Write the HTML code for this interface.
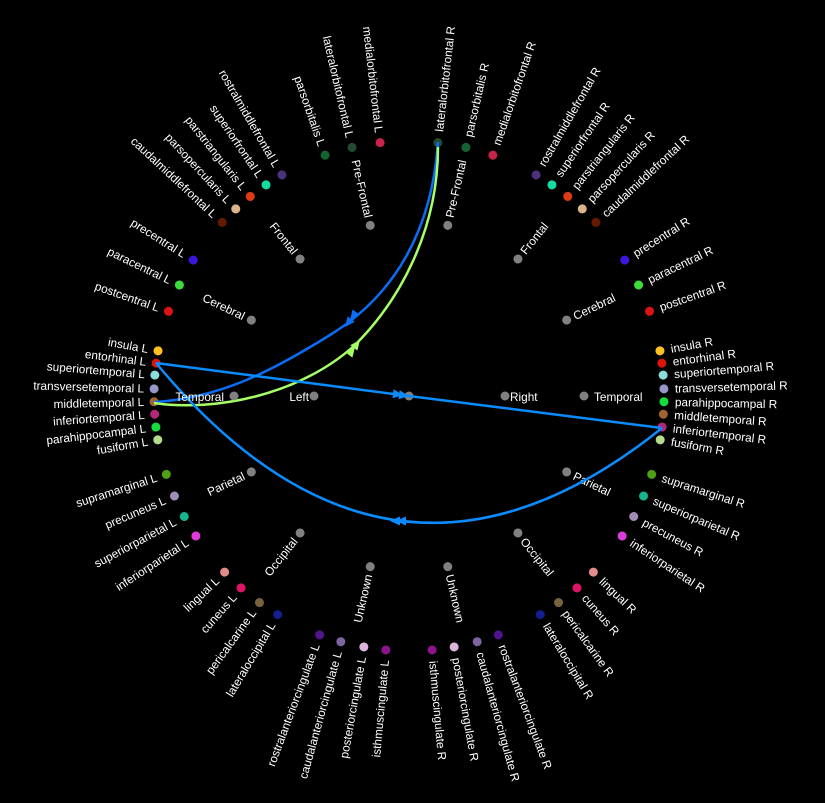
<!DOCTYPE html>
<html><head><meta charset="utf-8"><style>
html,body{margin:0;padding:0;background:#000;}
svg{display:block}
text{font-family:"Liberation Sans",Arial,sans-serif;font-size:11.8px;fill:#fff}
</style></head><body>
<svg width="825" height="803" viewBox="0 0 825 803" xmlns="http://www.w3.org/2000/svg">
<rect width="825" height="803" fill="#000"/>
<!-- Left leaves -->
<g transform="rotate(83.5 409 396)"><circle cx="154" cy="396" r="4.5" fill="rgb(200,35,75)"/><text x="144" y="400" text-anchor="end">medialorbitofrontal L</text></g>
<g transform="rotate(77.1 409 396)"><circle cx="154" cy="396" r="4.5" fill="rgb(35,75,50)"/><text x="144" y="400" text-anchor="end">lateralorbitofrontal L</text></g>
<g transform="rotate(70.8 409 396)"><circle cx="154" cy="396" r="4.5" fill="rgb(20,100,50)"/><text x="144" y="400" text-anchor="end">parsorbitalis L</text></g>
<g transform="rotate(60.1 409 396)"><circle cx="154" cy="396" r="4.5" fill="rgb(75,50,125)"/><text x="144" y="400" text-anchor="end">rostralmiddlefrontal L</text></g>
<g transform="rotate(55.9 409 396)"><circle cx="154" cy="396" r="4.5" fill="rgb(20,220,160)"/><text x="144" y="400" text-anchor="end">superiorfrontal L</text></g>
<g transform="rotate(51.5 409 396)"><circle cx="154" cy="396" r="4.5" fill="rgb(220,60,20)"/><text x="144" y="400" text-anchor="end">parstriangularis L</text></g>
<g transform="rotate(47.2 409 396)"><circle cx="154" cy="396" r="4.5" fill="rgb(220,180,140)"/><text x="144" y="400" text-anchor="end">parsopercularis L</text></g>
<g transform="rotate(42.9 409 396)"><circle cx="154" cy="396" r="4.5" fill="rgb(100,25,0)"/><text x="144" y="400" text-anchor="end">caudalmiddlefrontal L</text></g>
<g transform="rotate(32.2 409 396)"><circle cx="154" cy="396" r="4.5" fill="rgb(60,20,220)"/><text x="144" y="400" text-anchor="end">precentral L</text></g>
<g transform="rotate(25.8 409 396)"><circle cx="154" cy="396" r="4.5" fill="rgb(60,220,60)"/><text x="144" y="400" text-anchor="end">paracentral L</text></g>
<g transform="rotate(19.4 409 396)"><circle cx="154" cy="396" r="4.5" fill="rgb(220,20,20)"/><text x="144" y="400" text-anchor="end">postcentral L</text></g>
<g transform="rotate(10.2 409 396)"><circle cx="154" cy="396" r="4.5" fill="rgb(255,192,32)"/><text x="144" y="400" text-anchor="end">insula L</text></g>
<g transform="rotate(7.4 409 396)"><circle cx="154" cy="396" r="4.5" fill="rgb(220,20,10)"/><text x="144" y="400" text-anchor="end">entorhinal L</text></g>
<g transform="rotate(4.7 409 396)"><circle cx="154" cy="396" r="4.5" fill="rgb(140,220,220)"/><text x="144" y="400" text-anchor="end">superiortemporal L</text></g>
<g transform="rotate(1.6 409 396)"><circle cx="154" cy="396" r="4.5" fill="rgb(150,150,200)"/><text x="144" y="400" text-anchor="end">transversetemporal L</text></g>
<g transform="rotate(-1.3 409 396)"><circle cx="154" cy="396" r="4.5" fill="rgb(160,100,50)"/><text x="144" y="400" text-anchor="end">middletemporal L</text></g>
<g transform="rotate(-4.1 409 396)"><circle cx="154" cy="396" r="4.5" fill="rgb(180,40,120)"/><text x="144" y="400" text-anchor="end">inferiortemporal L</text></g>
<g transform="rotate(-7 409 396)"><circle cx="154" cy="396" r="4.5" fill="rgb(20,220,60)"/><text x="144" y="400" text-anchor="end">parahippocampal L</text></g>
<g transform="rotate(-9.9 409 396)"><circle cx="154" cy="396" r="4.5" fill="rgb(180,220,140)"/><text x="144" y="400" text-anchor="end">fusiform L</text></g>
<g transform="rotate(-17.9 409 396)"><circle cx="154" cy="396" r="4.5" fill="rgb(80,160,20)"/><text x="144" y="400" text-anchor="end">supramarginal L</text></g>
<g transform="rotate(-23.1 409 396)"><circle cx="154" cy="396" r="4.5" fill="rgb(160,140,180)"/><text x="144" y="400" text-anchor="end">precuneus L</text></g>
<g transform="rotate(-28.2 409 396)"><circle cx="154" cy="396" r="4.5" fill="rgb(20,180,140)"/><text x="144" y="400" text-anchor="end">superiorparietal L</text></g>
<g transform="rotate(-33.3 409 396)"><circle cx="154" cy="396" r="4.5" fill="rgb(220,60,220)"/><text x="144" y="400" text-anchor="end">inferiorparietal L</text></g>
<g transform="rotate(-43.7 409 396)"><circle cx="154" cy="396" r="4.5" fill="rgb(225,140,140)"/><text x="144" y="400" text-anchor="end">lingual L</text></g>
<g transform="rotate(-48.8 409 396)"><circle cx="154" cy="396" r="4.5" fill="rgb(220,20,100)"/><text x="144" y="400" text-anchor="end">cuneus L</text></g>
<g transform="rotate(-54.1 409 396)"><circle cx="154" cy="396" r="4.5" fill="rgb(120,100,60)"/><text x="144" y="400" text-anchor="end">pericalcarine L</text></g>
<g transform="rotate(-59 409 396)"><circle cx="154" cy="396" r="4.5" fill="rgb(20,30,140)"/><text x="144" y="400" text-anchor="end">lateraloccipital L</text></g>
<g transform="rotate(-69.5 409 396)"><circle cx="154" cy="396" r="4.5" fill="rgb(80,20,140)"/><text x="144" y="400" text-anchor="end">rostralanteriorcingulate L</text></g>
<g transform="rotate(-74.5 409 396)"><circle cx="154" cy="396" r="4.5" fill="rgb(125,100,160)"/><text x="144" y="400" text-anchor="end">caudalanteriorcingulate L</text></g>
<g transform="rotate(-79.8 409 396)"><circle cx="154" cy="396" r="4.5" fill="rgb(220,180,220)"/><text x="144" y="400" text-anchor="end">posteriorcingulate L</text></g>
<g transform="rotate(-84.8 409 396)"><circle cx="154" cy="396" r="4.5" fill="rgb(140,20,140)"/><text x="144" y="400" text-anchor="end">isthmuscingulate L</text></g>
<!-- Right leaves -->
<g transform="rotate(-83.5 409 396)"><circle cx="664" cy="396" r="4.5" fill="rgb(35,75,50)"/><text x="675" y="400">lateralorbitofrontal R</text></g>
<g transform="rotate(-77.1 409 396)"><circle cx="664" cy="396" r="4.5" fill="rgb(20,100,50)"/><text x="675" y="400">parsorbitalis R</text></g>
<g transform="rotate(-70.8 409 396)"><circle cx="664" cy="396" r="4.5" fill="rgb(200,35,75)"/><text x="675" y="400">medialorbitofrontal R</text></g>
<g transform="rotate(-60.1 409 396)"><circle cx="664" cy="396" r="4.5" fill="rgb(75,50,125)"/><text x="675" y="400">rostralmiddlefrontal R</text></g>
<g transform="rotate(-55.9 409 396)"><circle cx="664" cy="396" r="4.5" fill="rgb(20,220,160)"/><text x="675" y="400">superiorfrontal R</text></g>
<g transform="rotate(-51.5 409 396)"><circle cx="664" cy="396" r="4.5" fill="rgb(220,60,20)"/><text x="675" y="400">parstriangularis R</text></g>
<g transform="rotate(-47.2 409 396)"><circle cx="664" cy="396" r="4.5" fill="rgb(220,180,140)"/><text x="675" y="400">parsopercularis R</text></g>
<g transform="rotate(-42.9 409 396)"><circle cx="664" cy="396" r="4.5" fill="rgb(100,25,0)"/><text x="675" y="400">caudalmiddlefrontal R</text></g>
<g transform="rotate(-32.2 409 396)"><circle cx="664" cy="396" r="4.5" fill="rgb(60,20,220)"/><text x="675" y="400">precentral R</text></g>
<g transform="rotate(-25.8 409 396)"><circle cx="664" cy="396" r="4.5" fill="rgb(60,220,60)"/><text x="675" y="400">paracentral R</text></g>
<g transform="rotate(-19.4 409 396)"><circle cx="664" cy="396" r="4.5" fill="rgb(220,20,20)"/><text x="675" y="400">postcentral R</text></g>
<g transform="rotate(-10.2 409 396)"><circle cx="664" cy="396" r="4.5" fill="rgb(255,192,32)"/><text x="675" y="400">insula R</text></g>
<g transform="rotate(-7.4 409 396)"><circle cx="664" cy="396" r="4.5" fill="rgb(220,20,10)"/><text x="675" y="400">entorhinal R</text></g>
<g transform="rotate(-4.7 409 396)"><circle cx="664" cy="396" r="4.5" fill="rgb(140,220,220)"/><text x="675" y="400">superiortemporal R</text></g>
<g transform="rotate(-1.6 409 396)"><circle cx="664" cy="396" r="4.5" fill="rgb(150,150,200)"/><text x="675" y="400">transversetemporal R</text></g>
<g transform="rotate(1.3 409 396)"><circle cx="664" cy="396" r="4.5" fill="rgb(20,220,60)"/><text x="675" y="400">parahippocampal R</text></g>
<g transform="rotate(4.1 409 396)"><circle cx="664" cy="396" r="4.5" fill="rgb(160,100,50)"/><text x="675" y="400">middletemporal R</text></g>
<g transform="rotate(7 409 396)"><circle cx="664" cy="396" r="4.5" fill="rgb(180,40,120)"/><text x="675" y="400">inferiortemporal R</text></g>
<g transform="rotate(9.9 409 396)"><circle cx="664" cy="396" r="4.5" fill="rgb(180,220,140)"/><text x="675" y="400">fusiform R</text></g>
<g transform="rotate(17.9 409 396)"><circle cx="664" cy="396" r="4.5" fill="rgb(80,160,20)"/><text x="675" y="400">supramarginal R</text></g>
<g transform="rotate(23.1 409 396)"><circle cx="664" cy="396" r="4.5" fill="rgb(20,180,140)"/><text x="675" y="400">superiorparietal R</text></g>
<g transform="rotate(28.2 409 396)"><circle cx="664" cy="396" r="4.5" fill="rgb(160,140,180)"/><text x="675" y="400">precuneus R</text></g>
<g transform="rotate(33.3 409 396)"><circle cx="664" cy="396" r="4.5" fill="rgb(220,60,220)"/><text x="675" y="400">inferiorparietal R</text></g>
<g transform="rotate(43.7 409 396)"><circle cx="664" cy="396" r="4.5" fill="rgb(225,140,140)"/><text x="675" y="400">lingual R</text></g>
<g transform="rotate(48.8 409 396)"><circle cx="664" cy="396" r="4.5" fill="rgb(220,20,100)"/><text x="675" y="400">cuneus R</text></g>
<g transform="rotate(54.1 409 396)"><circle cx="664" cy="396" r="4.5" fill="rgb(120,100,60)"/><text x="675" y="400">pericalcarine R</text></g>
<g transform="rotate(59 409 396)"><circle cx="664" cy="396" r="4.5" fill="rgb(20,30,140)"/><text x="675" y="400">lateraloccipital R</text></g>
<g transform="rotate(69.5 409 396)"><circle cx="664" cy="396" r="4.5" fill="rgb(80,20,140)"/><text x="675" y="400">rostralanteriorcingulate R</text></g>
<g transform="rotate(74.5 409 396)"><circle cx="664" cy="396" r="4.5" fill="rgb(125,100,160)"/><text x="675" y="400">caudalanteriorcingulate R</text></g>
<g transform="rotate(79.8 409 396)"><circle cx="664" cy="396" r="4.5" fill="rgb(220,180,220)"/><text x="675" y="400">posteriorcingulate R</text></g>
<g transform="rotate(84.8 409 396)"><circle cx="664" cy="396" r="4.5" fill="rgb(140,20,140)"/><text x="675" y="400">isthmuscingulate R</text></g>
<!-- Groups -->
<g fill="#808080">
<g transform="rotate(77.2 409 396)"><circle cx="234" cy="396" r="4.5"/><text x="226" y="400" text-anchor="end">Pre-Frontal</text></g>
<g transform="rotate(51.5 409 396)"><circle cx="234" cy="396" r="4.5"/><text x="226" y="400" text-anchor="end">Frontal</text></g>
<g transform="rotate(25.7 409 396)"><circle cx="234" cy="396" r="4.5"/><text x="226" y="400" text-anchor="end">Cerebral</text></g>
<g transform="rotate(-25.7 409 396)"><circle cx="234" cy="396" r="4.5"/><text x="226" y="400" text-anchor="end">Parietal</text></g>
<g transform="rotate(-51.5 409 396)"><circle cx="234" cy="396" r="4.5"/><text x="226" y="400" text-anchor="end">Occipital</text></g>
<g transform="rotate(-77.2 409 396)"><circle cx="234" cy="396" r="4.5"/><text x="226" y="400" text-anchor="end">Unknown</text></g>
<g transform="rotate(-77.2 409 396)"><circle cx="584" cy="396" r="4.5"/><text x="592" y="400">Pre-Frontal</text></g>
<g transform="rotate(-51.5 409 396)"><circle cx="584" cy="396" r="4.5"/><text x="592" y="400">Frontal</text></g>
<g transform="rotate(-25.7 409 396)"><circle cx="584" cy="396" r="4.5"/><text x="592" y="400">Cerebral</text></g>
<g transform="rotate(25.7 409 396)"><circle cx="584" cy="396" r="4.5"/><text x="592" y="400">Parietal</text></g>
<g transform="rotate(51.5 409 396)"><circle cx="584" cy="396" r="4.5"/><text x="592" y="400">Occipital</text></g>
<g transform="rotate(77.2 409 396)"><circle cx="584" cy="396" r="4.5"/><text x="592" y="400">Unknown</text></g>
<circle cx="584" cy="396" r="4.5"/><text x="594" y="401">Temporal</text>
<circle cx="314" cy="396" r="4.5"/><text x="309" y="401" text-anchor="end">Left</text>
<circle cx="505" cy="396" r="4.5"/><text x="510" y="401">Right</text>
<circle cx="409" cy="396" r="4.5"/>
</g>
<!-- Edges -->
<g fill="none" stroke-width="2.5">
<path d="M438,142 C432,230 395,295 330,335 C270,372 220,398 155,402" stroke="#0a6ef5"/>
<path d="M154,403 C215,412 300,395 355,345 C400,300 438,230 438,147" stroke="#a6ff66"/>
<path d="M156,363 L409,396 L662,428" stroke="#0a8cff"/>
<path d="M156,363 Q391,646 662,428" stroke="#0a8cff"/>
</g>
<circle cx="234" cy="396" r="4.5" fill="#808080"/><text x="224" y="401" text-anchor="end">Temporal</text>
<g fill="#0a6ef5">
<polygon points="0,0 -10,-4.5 -10,4.5" transform="translate(345,327) rotate(128)"/>
<polygon points="0,0 -10,-4.5 -10,4.5" transform="translate(350,320) rotate(128)"/>
</g>
<g fill="#a6ff66">
<polygon points="0,0 -10,-4.5 -10,4.5" transform="translate(360,340) rotate(-52)"/>
<polygon points="0,0 -10,-4.5 -10,4.5" transform="translate(355,347) rotate(-52)"/>
</g>
<g fill="#0a8cff">
<polygon points="0,0 -10,-4.5 -10,4.5" transform="translate(403,395) rotate(7.3)"/>
<polygon points="0,0 -10,-4.5 -10,4.5" transform="translate(409,396) rotate(7.3)"/>
<polygon points="0,0 -10,-4.5 -10,4.5" transform="translate(390,521) rotate(180)"/>
<polygon points="0,0 -10,-4.5 -10,4.5" transform="translate(396,521) rotate(180)"/>
</g>
</svg>
</body></html>
